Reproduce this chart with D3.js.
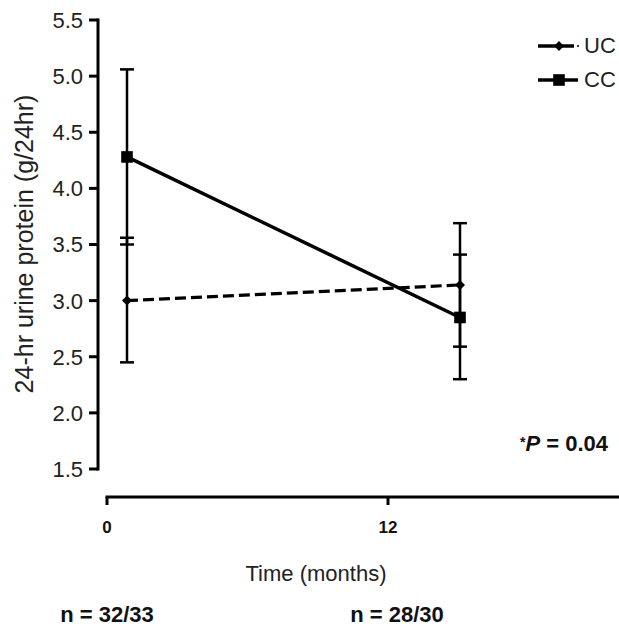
<!DOCTYPE html>
<html>
<head>
<meta charset="utf-8">
<script src="https://cdn.jsdelivr.net/npm/d3@7"></script>
<style>
  body { margin: 0; background: #fff; }
  svg { display: block; font-family: "Liberation Sans", Arial, sans-serif; }
</style>
</head>
<body>
<div id="chart"></div>
<script>
// data
var months = [0, 12];
var ucMean = [3.00, 3.14];
var ucLow = [2.45, 2.59];
var ucHigh = [3.56, 3.69];
var ccMean = [4.28, 2.85];
var ccLow = [3.50, 2.30];
var ccHigh = [5.06, 3.41];
var yTicks = [1.5, 2.0, 2.5, 3.0, 3.5, 4.0, 4.5, 5.0, 5.5];
var xTicks = [0, 12];
var nLabels = ["n = 32/33", "n = 28/30"];

var width = 619, height = 627;

var svg = d3.select("#chart").append("svg")
  .attr("width", width).attr("height", height);

var y = d3.scaleLinear().domain([1.5, 5.5]).range([469, 20]);
// the axis and the plotted points are offset from each other in the original
var xAxisScale = d3.scaleLinear().domain([0, 24]).range([107, 669]);
var xData = d3.scaleLinear().domain([0, 12]).range([127, 460]);

// y axis, drawn by hand from the scale
var yAxis = svg.append("g").attr("class", "y-axis");
yAxis.append("line").attr("x1", 98).attr("x2", 98).attr("y1", y(5.5) - 1.5).attr("y2", y(1.5) + 1.5)
  .attr("stroke", "#000").attr("stroke-width", 3);
var yt = yAxis.selectAll(".yt").data(yTicks).enter().append("g").attr("class", "yt")
  .attr("transform", function(d) { return "translate(0," + y(d) + ")"; });
yt.append("line").attr("x1", 89).attr("x2", 98).attr("stroke", "#000").attr("stroke-width", 3);
yt.append("text").attr("x", 83).attr("dy", "0.36em").attr("text-anchor", "end")
  .style("font-size", "22px").attr("fill", "#222")
  .text(function(d) { return d3.format(".1f")(d); });

// x axis
var xAxis = svg.append("g").attr("class", "x-axis");
xAxis.append("line").attr("x1", xAxisScale(0) - 1.5).attr("x2", width).attr("y1", 497).attr("y2", 497)
  .attr("stroke", "#000").attr("stroke-width", 3);
var xt = xAxis.selectAll(".xt").data(xTicks).enter().append("g").attr("class", "xt")
  .attr("transform", function(d) { return "translate(" + xAxisScale(d) + ",497)"; });
xt.append("line").attr("y1", 0).attr("y2", 8).attr("stroke", "#000").attr("stroke-width", 3);
xt.append("text").attr("y", 36).attr("text-anchor", "middle")
  .style("font-size", "17px").style("font-weight", "bold").attr("fill", "#111")
  .text(function(d) { return d; });

// axis titles
svg.append("text")
  .attr("transform", "translate(33,244) rotate(-90)")
  .attr("text-anchor", "middle")
  .style("font-size", "25px").attr("fill", "#222")
  .text("24-hr urine protein (g/24hr)");

svg.append("text")
  .attr("x", 316).attr("y", 581)
  .attr("text-anchor", "middle")
  .style("font-size", "22px").attr("fill", "#222")
  .text("Time (months)");

svg.selectAll(".nlab").data(nLabels).enter().append("text")
  .attr("class", "nlab")
  .attr("x", function(d, i) { return [107, 397][i]; })
  .attr("y", 622)
  .attr("text-anchor", "middle")
  .style("font-size", "22px").style("font-weight", "bold").attr("fill", "#111")
  .text(function(d) { return d; });

// error bars
function errorBars(low, high) {
  var g = svg.append("g").attr("stroke", "#000").attr("stroke-width", 2.5);
  months.forEach(function(m, i) {
    var cx = xData(m);
    g.append("line").attr("x1", cx).attr("x2", cx).attr("y1", y(low[i])).attr("y2", y(high[i]));
    g.append("line").attr("x1", cx - 7).attr("x2", cx + 7).attr("y1", y(low[i])).attr("y2", y(low[i]));
    g.append("line").attr("x1", cx - 7).attr("x2", cx + 7).attr("y1", y(high[i])).attr("y2", y(high[i]));
  });
}
errorBars(ucLow, ucHigh);
errorBars(ccLow, ccHigh);

var line = d3.line()
  .x(function(d, i) { return xData(months[i]); })
  .y(function(d) { return y(d); });

svg.append("path").datum(ucMean)
  .attr("d", line).attr("fill", "none").attr("stroke", "#000")
  .attr("stroke-width", 3.2).attr("stroke-dasharray", "11,5");

svg.append("path").datum(ccMean)
  .attr("d", line).attr("fill", "none").attr("stroke", "#000")
  .attr("stroke-width", 3.5);

var diamond = d3.symbol().type(d3.symbolSquare).size(50);
var square = d3.symbol().type(d3.symbolSquare).size(135);

svg.selectAll(".uc").data(ucMean).enter().append("path")
  .attr("class", "uc")
  .attr("transform", function(d, i) { return "translate(" + xData(months[i]) + "," + y(d) + ") rotate(45)"; })
  .attr("d", diamond).attr("fill", "#000");

svg.selectAll(".cc").data(ccMean).enter().append("path")
  .attr("class", "cc")
  .attr("transform", function(d, i) { return "translate(" + xData(months[i]) + "," + y(d) + ")"; })
  .attr("d", square).attr("fill", "#000");

// legend
var legend = svg.append("g");
legend.append("line").attr("x1", 538).attr("x2", 574).attr("y1", 46).attr("y2", 46)
  .attr("stroke", "#000").attr("stroke-width", 3.5);
legend.append("path").attr("transform", "translate(559,46) rotate(45)").attr("d", diamond).attr("fill", "#000");
legend.append("circle").attr("cx", 578).attr("cy", 46).attr("r", 1).attr("fill", "#000");
legend.append("text").attr("x", 584).attr("y", 53).style("font-size", "22px").attr("fill", "#222").text("UC");

legend.append("line").attr("x1", 538).attr("x2", 578).attr("y1", 80).attr("y2", 80)
  .attr("stroke", "#000").attr("stroke-width", 3.5);
legend.append("path").attr("transform", "translate(559,80)").attr("d", square).attr("fill", "#000");
legend.append("text").attr("x", 584).attr("y", 87).style("font-size", "22px").attr("fill", "#222").text("CC");

// p value
var pt = svg.append("text").attr("x", 608).attr("y", 451)
  .attr("text-anchor", "end").style("font-size", "22px").style("font-weight", "bold").attr("fill", "#111");
pt.append("tspan").style("font-size", "14px").attr("dy", -4).text("*");
pt.append("tspan").style("font-style", "italic").attr("dy", 4).text("P");
pt.append("tspan").text(" = 0.04");
</script>
</body>
</html>
